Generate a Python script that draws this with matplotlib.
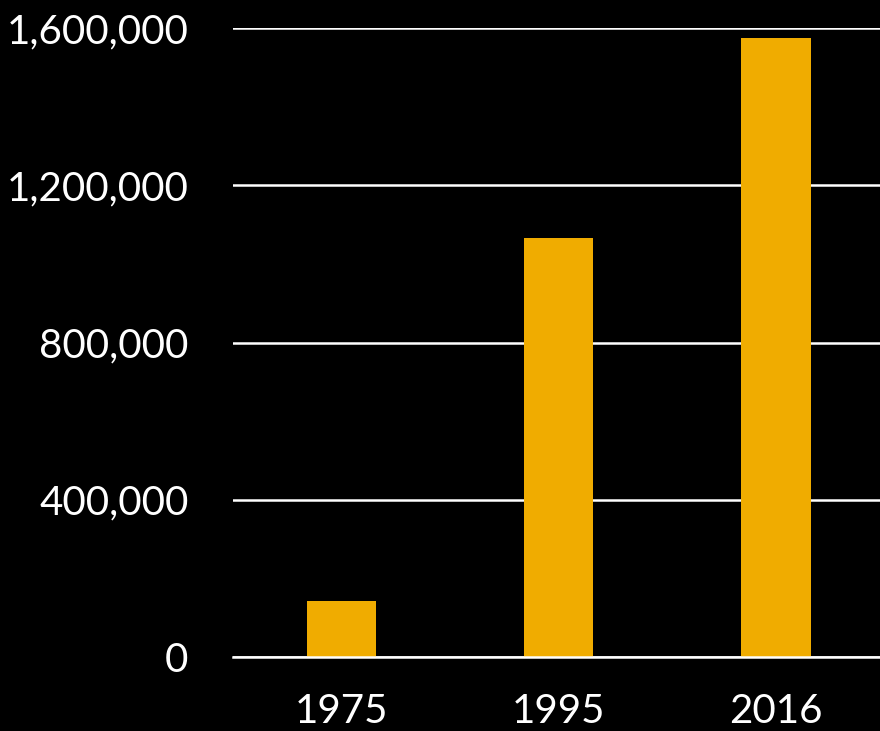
import matplotlib
matplotlib.use("Agg")
import matplotlib.pyplot as plt
from matplotlib.ticker import FuncFormatter

years = ["1975", "1995", "2016"]
values = [142000, 1066000, 1575000]
y_ticks = [0, 400000, 800000, 1200000, 1600000]

plt.rcParams["font.family"] = ["Lato", "DejaVu Sans"]

fig = plt.figure(figsize=(8.8, 7.31), dpi=100, facecolor="black")
ax = fig.add_axes([0.2648, 0.1012, 0.7352, 0.8605], facecolor="black")

x = range(len(years))
ax.bar(x, values, width=0.32, color="#F0AC00", zorder=3)

ax.set_xlim(-0.5, 2.48)
ax.set_ylim(0, 1600000)
ax.set_yticks(y_ticks)
ax.yaxis.set_major_formatter(FuncFormatter(lambda v, p: f"{int(v):,}"))
ax.set_xticks(list(x))
ax.set_xticklabels(years)

ax.grid(axis="y", color="white", linewidth=1.8, zorder=1)
ax.set_axisbelow(True)
for side in ["left", "right", "top"]:
    ax.spines[side].set_visible(False)
ax.spines["bottom"].set_color("white")
ax.spines["bottom"].set_linewidth(1.8)
ax.spines["bottom"].set_zorder(4)

ax.tick_params(axis="y", length=0, pad=32, labelsize=29, labelcolor="white")
ax.tick_params(axis="x", length=0, pad=26, labelsize=29, labelcolor="white")

fig.savefig("out.png", dpi=100, facecolor="black")
